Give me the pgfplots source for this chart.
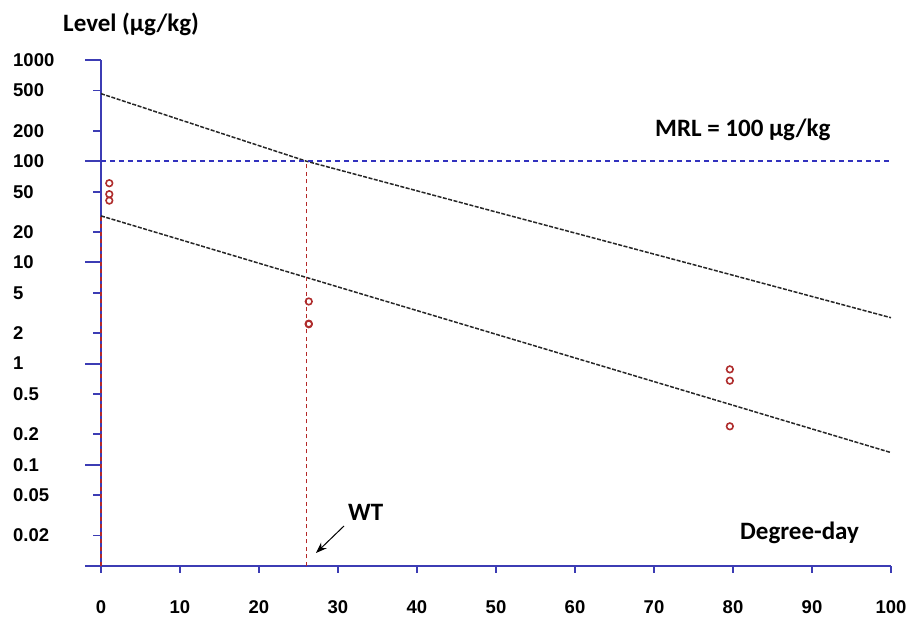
\documentclass[border=0pt]{standalone}
\usepackage{pgfplots}
\pgfplotsset{compat=1.18}
\usetikzlibrary{arrows.meta}
\usepackage{fontspec}
\setmainfont{Carlito}
\newfontfamily\tickfont{Liberation Sans}
\definecolor{axblue}{RGB}{60,60,180}
\definecolor{ptred}{RGB}{175,45,45}
\definecolor{vred}{RGB}{180,40,40}
\definecolor{mrlblue}{RGB}{50,50,190}

\begin{document}
\begin{tikzpicture}
\useasboundingbox (-101pt,-51pt) rectangle (812pt,566pt);
\begin{axis}[
 scale only axis, width=790pt, height=506pt,
 xmin=0, xmax=100, ymin=0.01, ymax=1000, ymode=log,
 axis x line*=bottom, axis y line*=left,
 axis line style={axblue, line width=1.9pt, -},
 tick style={axblue, line width=1.9pt},
 tick align=outside,
 major tick length=16pt,
 minor tick length=0pt,
 xtick=\empty,
 extra x ticks={0,10,20,30,40,50,60,70,80,90,100},
 extra x tick labels={0,10,20,30,40,50,60,70,80,90,100},
 extra x tick style={major tick length=7pt},
 ytick={0.01,0.1,1,10,100,1000},
 yticklabels={,0.1,1,10,100,1000},
 extra y ticks={0.02,0.05,0.2,0.5,2,5,20,50,200,500},
 extra y tick labels={0.02,0.05,0.2,0.5,2,5,20,50,200,500},
 extra y tick style={major tick length=8pt, yticklabel style={xshift=-8pt}},
 tick label style={font=\tickfont\bfseries\fontsize{18.5}{18.5}\selectfont, inner sep=0pt},
 yticklabel style={anchor=west, xshift=-72pt},
 xticklabel style={anchor=north, yshift=-27pt},
 clip=false,
]
% regression / tolerance lines
\addplot[black!85, line width=1.5pt, dash pattern=on 4pt off 1.5pt] coordinates {(0,465) (13,215) (26,100) (50,31.5) (75,9.5) (100,2.84)};
\addplot[black!85, line width=1.5pt, dash pattern=on 4pt off 1.5pt] coordinates {(0,28.8) (100,0.132)};
% MRL
\addplot[mrlblue, line width=1.6pt, dash pattern=on 5pt off 4pt] coordinates {(0,100) (100,100)};
% WT verticals
\addplot[vred, line width=1.6pt, dash pattern=on 4pt off 3.5pt] coordinates {(26,0.01) (26,100)};
\addplot[vred, line width=1.6pt, dash pattern=on 4pt off 3.5pt] coordinates {(0,0.01) (0,28.8)};
% observations
\addplot[only marks, mark=o, mark size=3.3pt, ptred, mark options={line width=1.6pt}] coordinates {
(1.05,60.6) (1.05,47.2) (1.05,40.8)
(26.3,4.11) (26.3,2.48) (26.3,2.45)
(79.6,0.877) (79.6,0.678) (79.6,0.240)};
\end{axis}
\node[anchor=base west, inner sep=0pt, font=\bfseries\fontsize{25}{25}\selectfont] at (-38pt,534pt) {Level (µg/kg)};
\node[anchor=base west, inner sep=0pt, font=\bfseries\fontsize{25}{25}\selectfont] at (554pt,429pt) {MRL = 100 µg/kg};
\node[anchor=base west, inner sep=0pt, font=\bfseries\fontsize{25}{25}\selectfont] at (247pt,45pt) {WT};
\node[anchor=base west, inner sep=0pt, font=\bfseries\fontsize{25}{25}\selectfont] at (639pt,26pt) {Degree-day};
\draw[-{Stealth[length=11pt, width=8pt]}, line width=1pt] (243pt,40pt) -- (215pt,13pt);
\end{tikzpicture}
\end{document}
